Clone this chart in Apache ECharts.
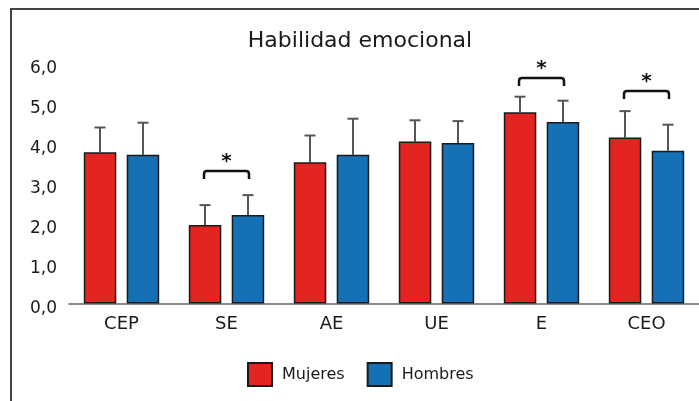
<!DOCTYPE html>
<html>
<head>
<meta charset="utf-8">
<script src="https://cdn.jsdelivr.net/npm/echarts@6/dist/echarts.min.js"></script>
<style>
html,body{margin:0;padding:0;background:#fff;}
#chart{width:699px;height:401px;}
</style>
</head>
<body>
<div id="chart"></div>
<script>
const categories = ['CEP', 'SE', 'AE', 'UE', 'E', 'CEO'];
const mujeres = [3.78, 1.96, 3.53, 4.05, 4.78, 4.15];
const hombres = [3.72, 2.21, 3.72, 4.01, 4.54, 3.82];
const mujeresSD = [0.62, 0.50, 0.67, 0.53, 0.39, 0.66];
const hombresSD = [0.80, 0.50, 0.90, 0.55, 0.53, 0.65];
const sigCategories = ['SE', 'E', 'CEO'];
const sigLevels = [3.31, 5.64, 5.31];
const yTicks = [0, 1, 2, 3, 4, 5, 6];

const FONT = 'DejaVu Sans';
const RED = '#E42421';
const BLUE = '#1670B6';
const OFFSET = 21.5;

const errData = [];
mujeres.forEach((m, i) => errData.push([i, m, mujeresSD[i], -1]));
hombres.forEach((m, i) => errData.push([i, m, hombresSD[i], 1]));
const sigData = sigCategories.map((c, k) => [categories.indexOf(c), sigLevels[k]]);

const chart = echarts.init(document.getElementById('chart'));
chart.setOption({
  backgroundColor: '#fff',
  animation: false,
  title: {
    text: 'Habilidad emocional',
    left: 355,
    top: 25,
    textAlign: 'center',
    textStyle: { fontFamily: FONT, fontSize: 22, fontWeight: 'normal', color: '#1a1a1a' }
  },
  legend: {
    data: ['Mujeres', 'Hombres'],
    left: 242,
    top: 357,
    icon: 'rect',
    itemWidth: 24,
    itemHeight: 23,
    itemGap: 22,
    textStyle: { fontFamily: FONT, fontSize: 16, color: '#1a1a1a', padding: [0, 0, 0, 5] }
  },
  grid: { left: 69, right: 0, top: 63.5, bottom: 97.5 },
  xAxis: {
    type: 'category',
    data: categories,
    axisLine: { lineStyle: { color: '#666', width: 1.5 } },
    axisTick: { show: false },
    axisLabel: { fontFamily: FONT, fontSize: 18, color: '#1a1a1a', margin: 12 }
  },
  yAxis: {
    type: 'value',
    min: yTicks[0],
    max: yTicks[yTicks.length - 1],
    interval: 1,
    axisLine: { show: false },
    axisTick: { show: false },
    splitLine: { show: false },
    axisLabel: {
      fontFamily: FONT, fontSize: 17, color: '#1a1a1a', margin: 12,
      verticalAlign: 'top', lineHeight: 11,
      formatter: v => v.toFixed(1).replace('.', ',')
    }
  },
  graphic: [{
    type: 'polyline',
    shape: { points: [[11, 402], [11, 9], [700, 9]] },
    style: { stroke: '#444', lineWidth: 2, fill: null },
    silent: true
  }],
  series: [
    {
      name: 'Mujeres', type: 'bar', data: mujeres,
      barWidth: 32.5, barGap: '32%',
      itemStyle: { color: RED, borderColor: '#1a1a1a', borderWidth: 1.5 }
    },
    {
      name: 'Hombres', type: 'bar', data: hombres,
      barWidth: 32.5, barGap: '32%',
      itemStyle: { color: BLUE, borderColor: '#1a1a1a', borderWidth: 1.5 }
    },
    {
      type: 'custom', name: 'err', data: errData, z: 1,
      encode: { x: 0, y: 1 },
      renderItem: function (params, api) {
        const i = api.value(0), m = api.value(1), sd = api.value(2), side = api.value(3);
        const base = api.coord([i, m]);
        const top = api.coord([i, m + sd]);
        const x = base[0] + side * OFFSET;
        return {
          type: 'group',
          children: [
            { type: 'line', shape: { x1: x, y1: base[1], x2: x, y2: top[1] }, style: { stroke: '#555', lineWidth: 2 } },
            { type: 'line', shape: { x1: x - 5.5, y1: top[1], x2: x + 5.5, y2: top[1] }, style: { stroke: '#555', lineWidth: 2 } }
          ]
        };
      }
    },
    {
      type: 'custom', name: 'sig', data: sigData, z: 3,
      encode: { x: 0, y: 1 },
      renderItem: function (params, api) {
        const p = api.coord([api.value(0), api.value(1)]);
        const x1 = p[0] - 22.5, x2 = p[0] + 22.5, y = p[1];
        const d = `M${x1},${y + 8} L${x1},${y + 3} Q${x1},${y} ${x1 + 3},${y} L${x2 - 3},${y} Q${x2},${y} ${x2},${y + 3} L${x2},${y + 8}`;
        return {
          type: 'group',
          children: [
            { type: 'path', shape: { pathData: d }, style: { stroke: '#111', lineWidth: 2.5, fill: null } },
            { type: 'text', x: p[0], y: y + 1, style: { text: '*', fontFamily: FONT, fontSize: 20, fontWeight: 'bold', fill: '#111', align: 'center', verticalAlign: 'bottom' } }
          ]
        };
      }
    }
  ]
});
</script>
</body>
</html>
